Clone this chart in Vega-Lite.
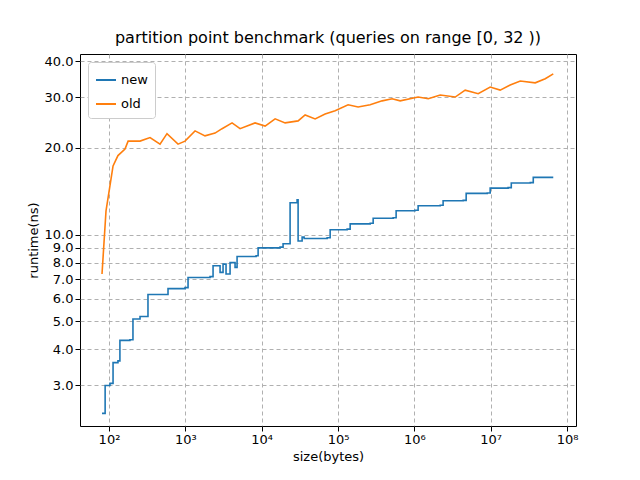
{
  "$schema": "https://vega.github.io/schema/vega-lite/v6.json",
  "width": 496,
  "height": 372,
  "autosize": "none",
  "padding": {"left": 80, "top": 54, "right": 64, "bottom": 54},
  "title": {"text": "partition point benchmark (queries on range [0, 32 ))", "fontSize": 16, "fontWeight": "normal", "font": "DejaVu Sans", "offset": 8},
  "config": {
    "font": "DejaVu Sans",
    "view": {"stroke": "black"},
    "axis": {"labelFont": "DejaVu Sans", "titleFont": "DejaVu Sans", "labelFontSize": 13, "titleFontSize": 13, "titleFontWeight": "normal", "labelColor": "black", "titleColor": "black", "domain": false, "tickColor": "black", "gridColor": "#b0b0b0", "gridDash": [4, 3], "gridOpacity": 1}
  },
  "data": {"values": [
    {"s": "new", "x": 81, "y": 2.4}, {"s": "new", "x": 89, "y": 3.0}, {"s": "new", "x": 103, "y": 3.05},
    {"s": "new", "x": 113, "y": 3.6}, {"s": "new", "x": 131, "y": 3.65}, {"s": "new", "x": 139, "y": 4.3},
    {"s": "new", "x": 188, "y": 4.32}, {"s": "new", "x": 206, "y": 5.1}, {"s": "new", "x": 255, "y": 5.2},
    {"s": "new", "x": 324, "y": 6.2}, {"s": "new", "x": 542, "y": 6.2}, {"s": "new", "x": 593, "y": 6.5},
    {"s": "new", "x": 990, "y": 6.55}, {"s": "new", "x": 1085, "y": 7.1}, {"s": "new", "x": 2107, "y": 7.15},
    {"s": "new", "x": 2307, "y": 7.8}, {"s": "new", "x": 2851, "y": 7.4}, {"s": "new", "x": 3119, "y": 7.9},
    {"s": "new", "x": 3413, "y": 7.3}, {"s": "new", "x": 3854, "y": 8.0}, {"s": "new", "x": 4480, "y": 7.7},
    {"s": "new", "x": 4760, "y": 8.4}, {"s": "new", "x": 8450, "y": 8.45}, {"s": "new", "x": 8980, "y": 9.0},
    {"s": "new", "x": 17400, "y": 9.05}, {"s": "new", "x": 19070, "y": 9.3}, {"s": "new", "x": 23560, "y": 12.9},
    {"s": "new", "x": 29100, "y": 13.2}, {"s": "new", "x": 30000, "y": 9.5},
    {"s": "new", "x": 33870, "y": 9.8}, {"s": "new", "x": 35980, "y": 9.7}, {"s": "new", "x": 71990, "y": 9.75},
    {"s": "new", "x": 78890, "y": 10.4}, {"s": "new", "x": 131600, "y": 10.45}, {"s": "new", "x": 144200, "y": 10.9},
    {"s": "new", "x": 263700, "y": 10.95}, {"s": "new", "x": 288600, "y": 11.4}, {"s": "new", "x": 527500, "y": 11.45},
    {"s": "new", "x": 577000, "y": 12.1}, {"s": "new", "x": 1020000, "y": 12.15}, {"s": "new", "x": 1120000, "y": 12.6},
    {"s": "new", "x": 2180000, "y": 12.65}, {"s": "new", "x": 2380000, "y": 13.1}, {"s": "new", "x": 4360000, "y": 13.15},
    {"s": "new", "x": 4770000, "y": 13.9}, {"s": "new", "x": 9000000, "y": 13.95}, {"s": "new", "x": 9840000, "y": 14.5},
    {"s": "new", "x": 16900000, "y": 14.55}, {"s": "new", "x": 18600000, "y": 15.1}, {"s": "new", "x": 33000000, "y": 15.15},
    {"s": "new", "x": 36100000, "y": 15.8}, {"s": "new", "x": 66000000, "y": 15.8},
    {"s": "old", "x": 81, "y": 7.3}, {"s": "old", "x": 91.4, "y": 12.1}, {"s": "old", "x": 103, "y": 14.8},
    {"s": "old", "x": 113, "y": 17.3}, {"s": "old", "x": 131, "y": 18.8}, {"s": "old", "x": 162, "y": 19.8},
    {"s": "old", "x": 178, "y": 21.1}, {"s": "old", "x": 255, "y": 21.1}, {"s": "old", "x": 345, "y": 21.7},
    {"s": "old", "x": 466, "y": 20.6}, {"s": "old", "x": 575, "y": 22.4}, {"s": "old", "x": 802, "y": 20.6},
    {"s": "old", "x": 990, "y": 21.1}, {"s": "old", "x": 1340, "y": 22.9}, {"s": "old", "x": 1811, "y": 22.0},
    {"s": "old", "x": 2450, "y": 22.5}, {"s": "old", "x": 3027, "y": 23.3}, {"s": "old", "x": 4093, "y": 24.4},
    {"s": "old", "x": 5212, "y": 23.3}, {"s": "old", "x": 8190, "y": 24.4}, {"s": "old", "x": 11090, "y": 23.8},
    {"s": "old", "x": 15000, "y": 25.2}, {"s": "old", "x": 20280, "y": 24.4}, {"s": "old", "x": 30000, "y": 24.8},
    {"s": "old", "x": 37070, "y": 26.0}, {"s": "old", "x": 50120, "y": 25.2}, {"s": "old", "x": 67760, "y": 26.2},
    {"s": "old", "x": 91620, "y": 26.9}, {"s": "old", "x": 135500, "y": 28.2}, {"s": "old", "x": 183300, "y": 27.7},
    {"s": "old", "x": 263700, "y": 28.2}, {"s": "old", "x": 378400, "y": 29.1}, {"s": "old", "x": 512000, "y": 29.6},
    {"s": "old", "x": 651500, "y": 29.1}, {"s": "old", "x": 1120000, "y": 30.0}, {"s": "old", "x": 1520000, "y": 29.6},
    {"s": "old", "x": 2180000, "y": 30.5}, {"s": "old", "x": 3430000, "y": 30.0}, {"s": "old", "x": 4630000, "y": 31.7},
    {"s": "old", "x": 6860000, "y": 30.8}, {"s": "old", "x": 9840000, "y": 32.5}, {"s": "old", "x": 13300000, "y": 31.7},
    {"s": "old", "x": 18000000, "y": 33.0}, {"s": "old", "x": 24400000, "y": 34.1}, {"s": "old", "x": 38300000, "y": 33.6},
    {"s": "old", "x": 51800000, "y": 34.7}, {"s": "old", "x": 66000000, "y": 36.1}
  ]},
  "encoding": {
    "x": {"field": "x", "type": "quantitative", "title": "size(bytes)",
      "scale": {"type": "log", "domain": [41.7, 131000000], "nice": false},
      "axis": {"values": [100, 1000, 10000, 100000, 1000000, 10000000, 100000000],
        "labelExpr": "{'100':'10²','1000':'10³','10000':'10⁴','100000':'10⁵','1000000':'10⁶','10000000':'10⁷','100000000':'10⁸'}[datum.value + '']"}},
    "y": {"field": "y", "type": "quantitative", "title": "runtime(ns)",
      "scale": {"type": "log", "domain": [2.17, 42.3], "nice": false},
      "axis": {"values": [3, 4, 5, 6, 7, 8, 9, 10, 20, 30, 40], "format": ".1f"}},
    "color": {"field": "s", "type": "nominal", "title": null,
      "scale": {"domain": ["new", "old"], "range": ["#1f77b4", "#ff7f0e"]},
      "legend": {"orient": "none", "legendX": 8, "legendY": 8, "symbolType": "stroke", "symbolStrokeWidth": 2, "symbolSize": 400, "labelFontSize": 13,
        "fillColor": "white", "strokeColor": "#cccccc", "padding": 7, "cornerRadius": 3, "rowPadding": 6}}
  },
  "layer": [
    {"transform": [{"filter": "datum.s === 'new'"}], "mark": {"type": "line", "strokeWidth": 1.6, "clip": true, "interpolate": "step-after"}},
    {"transform": [{"filter": "datum.s === 'old'"}], "mark": {"type": "line", "strokeWidth": 1.6, "clip": true}}
  ]
}
